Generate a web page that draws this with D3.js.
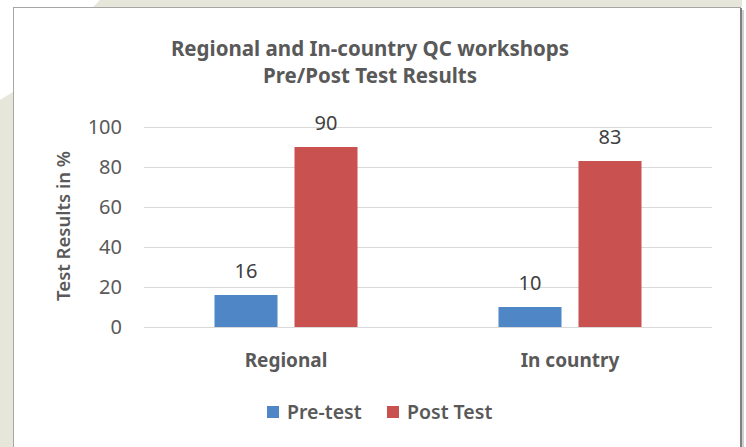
<!DOCTYPE html>
<html>
<head>
<meta charset="utf-8">
<script src="https://cdn.jsdelivr.net/npm/d3@7"></script>
<style>
  html, body { margin: 0; padding: 0; background: #fff; }
  svg { display: block; font-family: "Noto Sans", "Open Sans", sans-serif; }
</style>
</head>
<body>
<div id="chart"></div>
<script>
const categories = ["Regional", "In country"]
const series = ["Pre-test", "Post Test"]
const preTest = [16, 10]
const postTest = [90, 83]
const yTicks = [0, 20, 40, 60, 80, 100]
const titleLines = ["Regional and In-country QC workshops", "Pre/Post Test Results"]

const W = 746, H = 447
const MARGIN = { TOP: 127, BOTTOM: 120, LEFT: 144, RIGHT: 34 }
const COLORS = { "Pre-test": "#4f86c6", "Post Test": "#c9514f" }
const TEXT = "#595959"

const svg = d3.select("#chart").append("svg")
  .attr("width", W).attr("height", H)

// page background behind the chart frame
svg.append("rect").attr("width", W).attr("height", H).attr("fill", "#fff")
svg.append("polygon").attr("points", "93,7 100,0 742,0 742,7").attr("fill", "#e6e6da")
svg.append("polygon").attr("points", "0,100 13,92 13,447 0,447").attr("fill", "#e6e6da")

// chart frame
svg.append("rect")
  .attr("x", 13.5).attr("y", 7.5).attr("width", 727).attr("height", 460)
  .attr("fill", "#fff").attr("stroke", "#a6a6a6").attr("stroke-width", 1)
svg.append("line")
  .attr("x1", 741).attr("x2", 741).attr("y1", 8).attr("y2", H)
  .attr("stroke", "#7f7f7f").attr("stroke-width", 2)
svg.append("line")
  .attr("x1", 743).attr("x2", 743).attr("y1", 10).attr("y2", H)
  .attr("stroke", "#d0d0d0").attr("stroke-width", 2)

const innerW = W - MARGIN.LEFT - MARGIN.RIGHT
const innerH = H - MARGIN.TOP - MARGIN.BOTTOM

const g = svg.append("g").attr("transform", `translate(${MARGIN.LEFT}, ${MARGIN.TOP})`)

// scales
const x0 = d3.scaleBand().domain(categories).range([0, innerW])
const groupW = 143
const x1 = d3.scaleBand().domain(series)
  .range([(x0.bandwidth() - groupW) / 2, (x0.bandwidth() + groupW) / 2])
  .paddingInner(0.2125)
const y = d3.scaleLinear().domain([0, 100]).range([innerH, 0])

// gridlines
g.append("g")
  .selectAll("line")
  .data(yTicks)
  .join("line")
    .attr("x1", 0).attr("x2", innerW)
    .attr("y1", d => Math.round(y(d)) + 0.5).attr("y2", d => Math.round(y(d)) + 0.5)
    .attr("stroke", "#d9d9d9").attr("stroke-width", 1)

// y axis labels
const yAxis = g.append("g")
  .call(d3.axisLeft(y).tickValues(yTicks).tickSize(0).tickPadding(22))
yAxis.select(".domain").remove()
yAxis.selectAll("text")
  .attr("fill", TEXT).attr("font-size", 20)
  .attr("font-family", "Noto Sans, sans-serif")

// y axis title
svg.append("text")
  .attr("transform", `translate(70, 226) rotate(-90)`)
  .attr("text-anchor", "middle")
  .attr("fill", TEXT).attr("font-size", 18.5).attr("font-weight", 600)
  .text("Test Results in %")

// bars
const rows = categories.map((c, i) => ({ cat: c, values: [
  { key: series[0], value: preTest[i] },
  { key: series[1], value: postTest[i] }
] }))

const groups = g.selectAll(".grp")
  .data(rows)
  .join("g")
    .attr("class", "grp")
    .attr("transform", d => `translate(${x0(d.cat)}, 0)`)

groups.selectAll("rect")
  .data(d => d.values)
  .join("rect")
    .attr("x", d => x1(d.key))
    .attr("y", d => y(d.value))
    .attr("width", x1.bandwidth())
    .attr("height", d => y(0) - y(d.value))
    .attr("fill", d => COLORS[d.key])

groups.selectAll(".lbl")
  .data(d => d.values)
  .join("text")
    .attr("class", "lbl")
    .attr("x", d => x1(d.key) + x1.bandwidth() / 2)
    .attr("y", d => y(d.value) - 17)
    .attr("text-anchor", "middle")
    .attr("fill", "#404040").attr("font-size", 20)
    .text(d => d.value)

// x axis labels
const xAxis = g.append("g")
  .attr("transform", `translate(0, ${innerH})`)
  .call(d3.axisBottom(x0).tickSize(0).tickPadding(0))
xAxis.select(".domain").remove()
xAxis.selectAll("text")
  .attr("dy", null)
  .attr("y", 40)
  .attr("fill", TEXT).attr("font-size", 19).attr("font-weight", 700)
  .attr("font-family", "Noto Sans, sans-serif")

// title
svg.append("g").selectAll("text")
  .data(titleLines)
  .join("text")
    .attr("x", 370)
    .attr("y", (d, i) => 56 + i * 27)
    .attr("text-anchor", "middle")
    .attr("fill", TEXT).attr("font-size", 20.5).attr("font-weight", 700)
    .text(d => d)

// legend
const legend = svg.append("g").attr("transform", "translate(267, 419)")
const legendX = [0, 120]
const items = legend.selectAll("g")
  .data(series)
  .join("g")
    .attr("transform", (d, i) => `translate(${legendX[i]}, 0)`)
items.append("rect")
  .attr("y", -13).attr("width", 12).attr("height", 12)
  .attr("fill", d => COLORS[d])
items.append("text")
  .attr("x", 20)
  .attr("fill", TEXT).attr("font-size", 19.5).attr("font-weight", 600)
  .text(d => d)
</script>
</body>
</html>
